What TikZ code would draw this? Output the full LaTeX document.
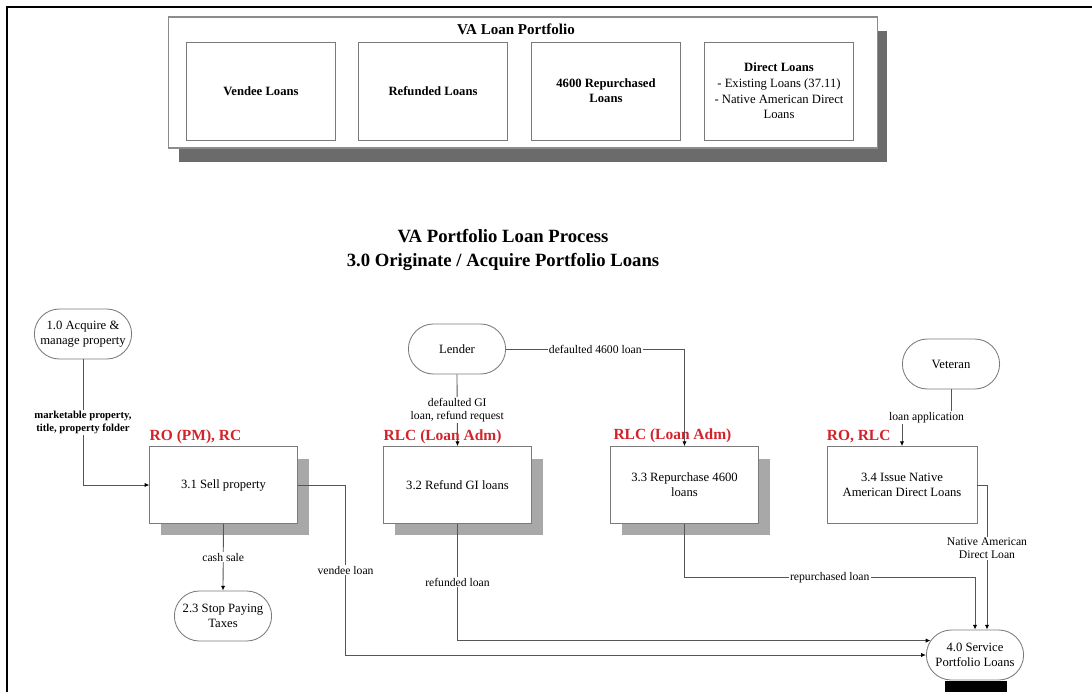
\documentclass[tikz,border=0pt]{standalone}
\usepackage{fontspec}
\setmainfont{Liberation Serif}
\usetikzlibrary{shapes.misc, arrows.meta, calc}
\definecolor{role-red}{HTML}{D2232A}
\definecolor{line-grey}{HTML}{555555}
\definecolor{box-grey}{HTML}{7A7A7A}
\definecolor{shade-light}{HTML}{A8A8A8}
\definecolor{shade-dark}{HTML}{6B6B6B}

\begin{document}
\begin{tikzpicture}[x=0.025cm, y=-0.025cm,
      every node/.style={font=\fontsize{9}{10.5}\selectfont},
      procbox/.style={draw=box-grey, fill=white, line width=0.6pt,
          minimum width=3.68cm, minimum height=1.92cm, align=center},
      softshadow/.style={preaction={fill=shade-light,
          transform canvas={xshift=0.29cm, yshift=-0.3cm}}},
      extnode/.style={rounded rectangle, draw=box-grey, fill=white,
          line width=0.6pt, minimum width=2.5cm, minimum height=1.25cm,
          align=center, inner sep=1pt},
      loanbox/.style={draw=box-grey, fill=white, line width=0.6pt,
          minimum width=3.73cm, minimum height=2.45cm, align=center},
      role/.style={text=role-red, font=\fontsize{11}{13}\selectfont\bfseries,
          anchor=base west, inner sep=0pt},
      flow/.style={draw=line-grey, line width=0.6pt,
          -{Latex[length=3.4pt, width=3pt, color=black]}},
      lbl/.style={fill=white, inner sep=0.8pt, align=center,
          font=\fontsize{8.3}{9.3}\selectfont}]
    \useasboundingbox (0,0) rectangle (1092,692);
    % page frame
    \draw[line width=1.2pt] (7,692) -- (7,7) -- (1092,7);

    % portfolio overview
    \node[draw=black!45, fill=white, line width=0.8pt,
          minimum width=17.7cm, minimum height=3.275cm,
          preaction={fill=shade-dark,
            transform canvas={xshift=0.24cm, yshift=-0.36cm}}]
          (portfolio) at (523,82.5) {};
    \node[font=\fontsize{10.7}{12}\selectfont\bfseries]
          (ptitle) at (516,29) {VA Loan Portfolio};
    \node[loanbox] (vendee) at (261,91) {\textbf{Vendee Loans}};
    \node[loanbox] (refunded) at (433,91) {\textbf{Refunded Loans}};
    \node[loanbox] (repurch) at (606,91)
          {\textbf{4600 Repurchased}\\\textbf{Loans}};
    \node[loanbox, font=\fontsize{9}{11.2}\selectfont] (direct) at (779,91)
          {\textbf{Direct Loans}\\- Existing Loans (37.11)\\
            - Native American Direct\\Loans};

    % process title
    \node[font=\fontsize{13.3}{17}\selectfont\bfseries, align=center]
          (title) at (503,250)
          {VA Portfolio Loan Process\\3.0 Originate / Acquire Portfolio Loans};

    % external entities
    \node[extnode] (acquire) at (83,334) {1.0 Acquire \&\\manage property};
    \node[extnode] (lender) at (457,349) {Lender};
    \node[extnode] (veteran) at (951,364) {Veteran};
    \node[extnode] (stop) at (223,616) {2.3 Stop Paying\\Taxes};
    \node[extnode] (service) at (975,655) {4.0 Service\\Portfolio Loans};
    \fill (945,681) rectangle (1007,692);

    % processes
    \node[procbox, softshadow] (sell) at (223.5,485) {3.1 Sell property};
    \node[procbox, softshadow] (refund) at (457.5,485) {3.2 Refund GI loans};
    \node[procbox, softshadow] (repurchase) at (684.5,485)
          {3.3 Repurchase 4600\\loans};
    \node[procbox, minimum width=3.75cm] (issue) at (902,485)
          {3.4 Issue Native\\American Direct Loans};

    \node[role] at ([yshift=4.3pt]sell.north west) {RO (PM), RC};
    \node[role] at ([yshift=4.3pt]refund.north west) {RLC (Loan Adm)};
    \node[role] at ([yshift=4.5pt, xshift=2pt]repurchase.north west)
          {RLC (Loan Adm)};
    \node[role] at ([yshift=4.3pt]issue.north west) {RO, RLC};

    % flows
    \draw[flow] (acquire.south) |- (sell.west)
          node[pos=0.25, lbl, font=\fontsize{7.6}{9}\selectfont\bfseries]
          {marketable property,\\title, property folder};
    \draw[flow] (lender.south) -- (refund.north)
          node[midway, lbl] {defaulted GI\\loan, refund request};
    \draw[flow] (lender.east) -| (repurchase.north)
          node[pos=0.25, lbl] {defaulted 4600 loan};
    \draw[flow] (veteran.south) -- ++(0,28) -| (issue.north)
          node[pos=0.25, lbl] {loan application};
    \draw[flow] (sell.south) -- (stop.north)
          node[midway, lbl] {cash sale};
    \draw[flow] (sell.east) -- ++(48,0) |- (service.west)
          node[pos=0.25, lbl] {vendee loan};
    \draw[flow] (refund.south) |- (service.162)
          node[pos=0.25, lbl] {refunded loan};
    \draw[flow] (repurchase.south) -- ++(0,54) -| (service.north)
          node[pos=0.25, lbl] {repurchased loan};
    \draw[flow] (issue.east) -| ($(service.north)+(12,0)$)
          node[pos=0.72, lbl] {Native American\\Direct Loan};
  \end{tikzpicture}
\end{document}
